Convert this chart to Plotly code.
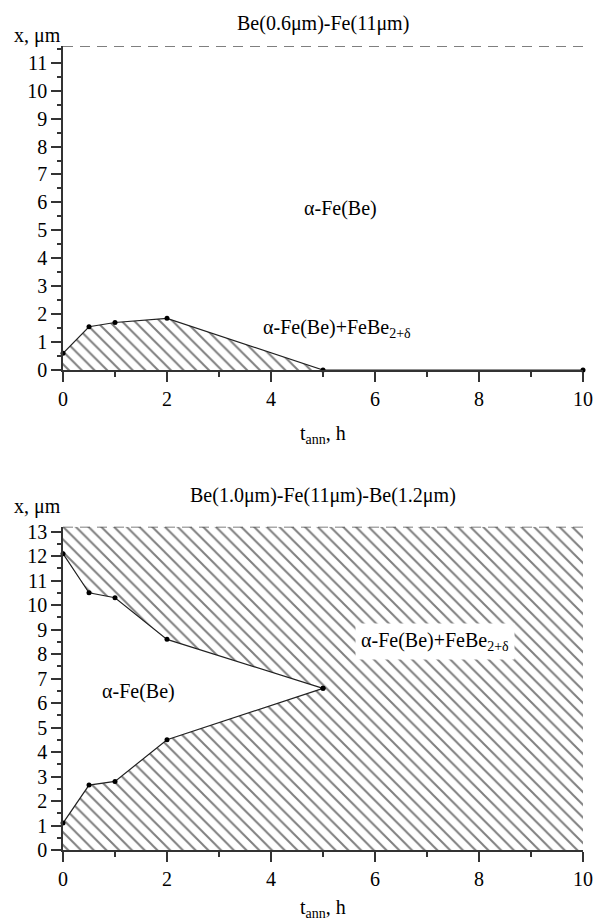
import plotly.graph_objects as go

# ---- data ----
t_top = [0, 0.5, 1, 2, 5, 10]
x_top = [0.6, 1.55, 1.7, 1.85, 0, 0]
top_thickness = 11.6          # Be(0.6) + Fe(11)

t_bot = [0, 0.5, 1, 2, 5]
x_low = [1.1, 2.65, 2.8, 4.5, 6.6]
x_up = [12.1, 10.5, 10.3, 8.6, 6.6]
bot_thickness = 13.2          # Be(1.0) + Fe(11) + Be(1.2)
t_max = 10

title_top = "Be(0.6μm)-Fe(11μm)"
title_bot = "Be(1.0μm)-Fe(11μm)-Be(1.2μm)"
lbl_alpha = "α-Fe(Be)"
lbl_mix = "α-Fe(Be)+FeBe<sub>2+δ</sub>"
xlabel = "t<sub>ann</sub>, h"
ylabel = "x, μm"

FONT = "Liberation Serif"
FS = 20
hatch = dict(shape="\\", size=9, solidity=0.22, fgcolor="#000000", bgcolor="rgba(0,0,0,0)")

fig = go.Figure()

# ---------- top panel ----------
fig.add_trace(go.Scatter(x=t_top[:5], y=x_top[:5], mode="none", fill="tozeroy",
                         fillpattern=hatch, fillcolor="rgba(0,0,0,0)",
                         xaxis="x", yaxis="y", showlegend=False, hoverinfo="skip"))
fig.add_trace(go.Scatter(x=[0, t_max], y=[top_thickness, top_thickness], mode="lines",
                         line=dict(color="#555555", width=1.6, dash="10px,7px"),
                         xaxis="x", yaxis="y", showlegend=False, cliponaxis=False))
fig.add_trace(go.Scatter(x=t_top, y=x_top, mode="lines+markers",
                         line=dict(color="#222222", width=1.2),
                         marker=dict(color="black", size=5),
                         xaxis="x", yaxis="y", showlegend=False, cliponaxis=False))

# ---------- bottom panel ----------
poly_x = [0, t_max, t_max, 0] + t_bot + t_bot[::-1][1:]
poly_y = [0, 0, bot_thickness, bot_thickness] + x_up + x_low[::-1][1:]
fig.add_trace(go.Scatter(x=poly_x, y=poly_y, mode="none", fill="toself",
                         fillpattern=hatch, fillcolor="rgba(0,0,0,0)",
                         xaxis="x2", yaxis="y2", showlegend=False, hoverinfo="skip"))
fig.add_trace(go.Scatter(x=[0, t_max], y=[bot_thickness, bot_thickness], mode="lines",
                         line=dict(color="#555555", width=1.6, dash="10px,7px"),
                         xaxis="x2", yaxis="y2", showlegend=False, cliponaxis=False))
for arr in (x_low, x_up):
    fig.add_trace(go.Scatter(x=t_bot, y=arr, mode="lines+markers",
                             line=dict(color="#222222", width=1.2),
                             marker=dict(color="black", size=5),
                             xaxis="x2", yaxis="y2", showlegend=False, cliponaxis=False))

H = 922
mt, mb = 46, 72
ph = H - mt - mb
top_dom = [(850 - 370) / ph, 1.0]
bot_dom = [0.0, (850 - 526.7) / ph]

axis_common = dict(showline=True, linecolor="#333333", linewidth=1.6, showgrid=False,
                   zeroline=False, ticks="outside", tickcolor="#333333", tickwidth=1.6,
                   automargin=False,
                   tickfont=dict(family=FONT, size=FS, color="black"))

xa = dict(axis_common, range=[0, t_max], dtick=2, tick0=0, ticklen=10,
          minor=dict(dtick=1, ticklen=5, ticks="outside", tickcolor="#333333", tickwidth=1.6))

fig.update_layout(
    width=595, height=H,
    margin=dict(l=63, r=12, t=mt, b=mb),
    paper_bgcolor="white", plot_bgcolor="white",
    showlegend=False,
    font=dict(family=FONT, size=FS, color="black"),
    xaxis=dict(xa, domain=[0, 1], anchor="y"),
    yaxis=dict(axis_common, range=[0, top_thickness], domain=top_dom, dtick=1, tick0=0, ticklen=10,
               minor=dict(dtick=0.5, ticklen=4, ticks="outside", tickcolor="#333333", tickwidth=1.6),
               anchor="x"),
    xaxis2=dict(xa, domain=[0, 1], anchor="y2"),
    yaxis2=dict(axis_common, range=[0, bot_thickness], domain=bot_dom, dtick=1, tick0=0, ticklen=10,
                minor=dict(dtick=0.5, ticklen=4, ticks="outside", tickcolor="#333333", tickwidth=1.6),
                anchor="x2"),
)

tf = dict(family=FONT, size=FS, color="black")
ann = [
    dict(text=title_top, xref="x domain", yref="y domain", x=0.5, y=1, yanchor="middle", yshift=23, showarrow=False, font=tf),
    dict(text=ylabel, xref="x domain", yref="y domain", x=0, y=1, xanchor="right", yanchor="middle", yshift=11, showarrow=False, font=tf),
    dict(text=xlabel, xref="x domain", yref="y domain", x=0.5, y=0, yanchor="middle", yshift=-64, showarrow=False, font=tf),
    dict(text=lbl_alpha, xref="x", yref="y", x=5.33, y=5.8, showarrow=False, font=tf),
    dict(text=lbl_mix, xref="x", yref="y", x=5.27, y=1.5, showarrow=False, font=tf),
    dict(text=title_bot, xref="x2 domain", yref="y2 domain", x=0.5, y=1, yanchor="middle", yshift=31, showarrow=False, font=tf),
    dict(text=ylabel, xref="x2 domain", yref="y2 domain", x=0, y=1, xanchor="right", yanchor="middle", yshift=20, showarrow=False, font=tf),
    dict(text=xlabel, xref="x2 domain", yref="y2 domain", x=0.5, y=0, yanchor="middle", yshift=-58, showarrow=False, font=tf),
    dict(text=lbl_alpha, xref="x2", yref="y2", x=1.46, y=6.46, showarrow=False, font=tf),
    dict(text=lbl_mix, xref="x2", yref="y2", x=7.15, y=8.5, showarrow=False, font=tf,
         bgcolor="white", borderpad=5),
]
fig.update_layout(annotations=ann)

fig.write_html("out.html")
